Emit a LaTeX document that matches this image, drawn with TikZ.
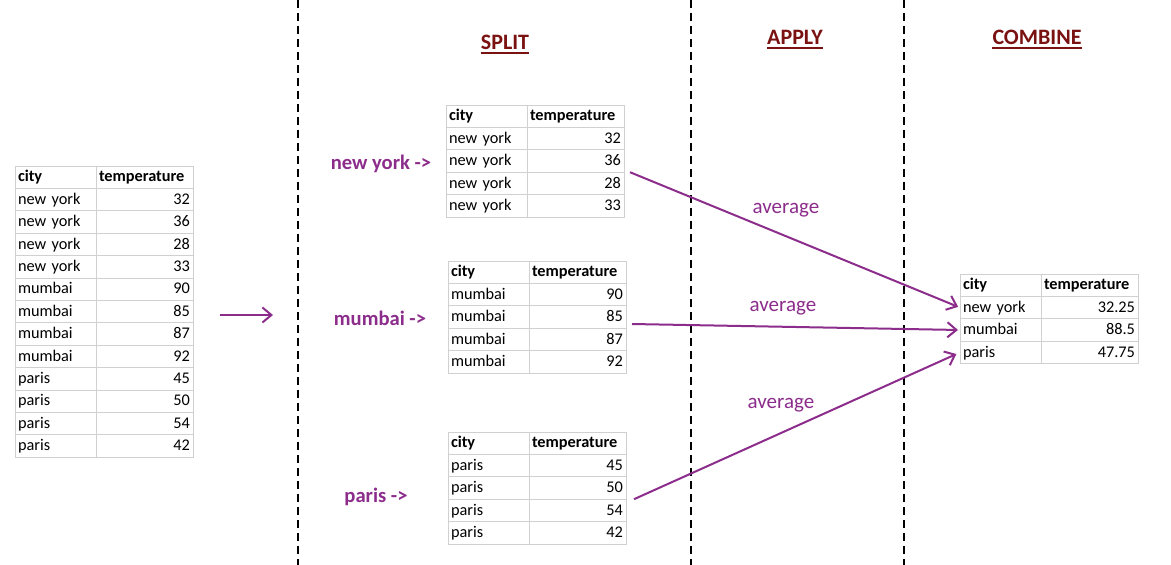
\documentclass[tikz,border=0pt]{standalone}
\usepackage{fontspec}
\setmainfont{Carlito}
\usetikzlibrary{arrows.meta,positioning,calc}
\definecolor{gridgray}{RGB}{208,208,208}
\definecolor{groupviolet}{RGB}{140,45,140}
\definecolor{titlered}{RGB}{122,18,18}

\tikzset{
  cell/.style={draw=gridgray, line width=0.8pt, fill=white, anchor=north west,
    minimum height=22.4pt, inner xsep=3pt, inner ysep=0pt, outer sep=0pt,
    text height=12pt, text depth=2.5pt, font=\fontsize{16.3}{19}\selectfont},
  citycell/.style={cell, text width=75pt, align=left},
  tempcell/.style={cell, text width=91pt, align=right},
  headcell/.style={font=\fontsize{16.3}{19}\selectfont\bfseries},
  heading/.style={inner sep=0pt, anchor=base, text=titlered,
    font=\fontsize{22}{26}\selectfont\bfseries},
  underbar/.style={titlered, line width=2pt},
  grouplabel/.style={inner sep=0pt, anchor=base, text=groupviolet,
    font=\fontsize{20.6}{24}\selectfont\bfseries},
  funclabel/.style={inner sep=0pt, anchor=base, text=groupviolet,
    font=\fontsize{21}{25}\selectfont},
  divider/.style={line width=2.5pt, dash pattern=on 8pt off 5pt},
  flow/.style={groupviolet, line width=2pt, -{Straight Barb[length=9pt,width=15pt]}}
}

% #1 name, #2 top left corner, #3 rows city/temp
\newcommand{\cityTable}[3]{%
  \node[citycell, headcell] (#1-0-1) at (#2) {city};
  \node[tempcell, headcell, align=left] (#1-0-2) at (#1-0-1.north east) {temperature};
  \foreach \c/\t [count=\i] in {#3} {
    \pgfmathtruncatemacro\j{\i-1}
    \node[citycell] (#1-\i-1) at (#1-\j-1.south west) {\c};
    \node[tempcell] (#1-\i-2) at (#1-\i-1.north east) {\t};
  }
}

\begin{document}
\begin{tikzpicture}[x=1pt, y=-1pt]
  \fill[white] (0,0) rectangle (1171,565);
  \useasboundingbox (0,0) rectangle (1171,565);

  % dashed separators
  \draw[divider] (298,0) -- (298,565);
  \draw[divider] (691,0) -- (691,565);
  \draw[divider] (904,0) -- (904,565);

  % headings
  \node[heading] (split) at (505,49) {SPLIT};
  \node[heading] (apply) at (795,44) {APPLY};
  \node[heading] (combine) at (1037,44) {COMBINE};
  \foreach \h in {split,apply,combine}
    \draw[underbar] ([yshift=-3.5pt]\h.base west) -- ([yshift=-3.5pt]\h.base east);

  % input data
  \cityTable{src}{15,166}{new york/32, new york/36, new york/28, new york/33,
    mumbai/90, mumbai/85, mumbai/87, mumbai/92,
    paris/45, paris/50, paris/54, paris/42}

  \coordinate (srcOut) at (220,315);
  \coordinate (splitIn) at (273,315);
  \draw[flow] (srcOut) -- (splitIn);

  % groups
  \node[grouplabel] (nyLabel) at (381,169) {new york ->};
  \node[grouplabel] (muLabel) at (380,325) {mumbai ->};
  \node[grouplabel] (paLabel) at (376,502) {paris ->};

  \cityTable{ny}{446,105}{new york/32, new york/36, new york/28, new york/33}
  \cityTable{mu}{448,261}{mumbai/90, mumbai/85, mumbai/87, mumbai/92}
  \cityTable{pa}{448,432}{paris/45, paris/50, paris/54, paris/42}

  % result
  \cityTable{cb}{960,274}{new york/32.25, mumbai/88.5, paris/47.75}

  \coordinate (nyOut) at ([xshift=6pt]ny-2-2.south east);
  \coordinate (muOut) at (632,324);
  \coordinate (paOut) at ([xshift=8pt]pa-2-2.south east);

  \draw[flow, shorten >=2pt] (nyOut) -- (cb-1-1.west);
  \draw[flow, shorten >=2pt] (muOut) -- (cb-2-1.west);
  \draw[flow, shorten >=4pt] (paOut) -- (cb-3-1.west);

  \node[funclabel] (nyAvg) at (786,213) {average};
  \node[funclabel] (muAvg) at (783,311) {average};
  \node[funclabel] (paAvg) at (781,408) {average};
\end{tikzpicture}
\end{document}
